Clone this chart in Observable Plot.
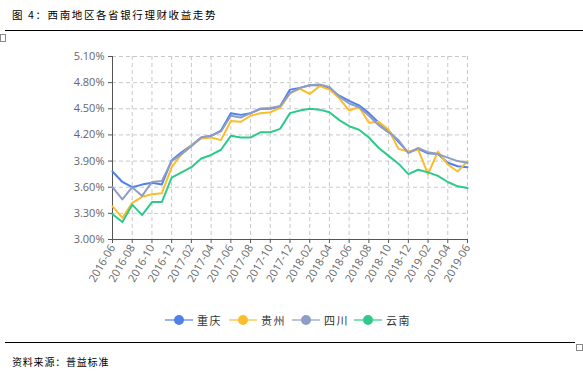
<!DOCTYPE html>
<html><head><meta charset="utf-8">
<script src="https://cdn.jsdelivr.net/npm/d3@7"></script>
<script src="https://cdn.jsdelivr.net/npm/@observablehq/plot@0.6"></script>
<style>
body{margin:0;background:#fff;}
#wrap{position:relative;width:583px;height:377px;overflow:hidden;font-family:"Noto Sans CJK SC",sans-serif;}
#title{position:absolute;left:12px;top:7px;font-size:10.5px;letter-spacing:1.6px;color:#000;font-family:"Noto Sans CJK SC";}
.hr{position:absolute;height:0;border-top:1.5px solid #000;}
#src{position:absolute;left:12px;top:354px;font-size:10px;letter-spacing:0.8px;color:#000;font-family:"Noto Sans CJK SC";}
#legend{position:absolute;top:312px;left:0;width:583px;height:18px;}
.lg{position:absolute;top:0;display:flex;align-items:center;font-size:11px;color:#333;letter-spacing:1.5px;}
#chart{position:absolute;left:0;top:0;}
.box{position:absolute;border:1px solid #888;background:#fff;}
</style></head>
<body><div id="wrap">
<div id="title">图 4：西南地区各省银行理财收益走势</div>
<div class="hr" style="left:5px;top:30px;width:578px"></div>
<div class="box" style="left:0;top:34px;width:4px;height:6px"></div>
<div id="chart"></div>
<div id="legend"></div>
<div class="hr" style="left:5px;top:342px;width:570px"></div>
<div class="box" style="left:576px;top:344px;width:5px;height:5px"></div>
<div id="src">资料来源：普益标准</div>
</div>
<script>
const months = ["2016-06","2016-07","2016-08","2016-09","2016-10","2016-11","2016-12",
"2017-01","2017-02","2017-03","2017-04","2017-05","2017-06","2017-07","2017-08","2017-09","2017-10","2017-11","2017-12",
"2018-01","2018-02","2018-03","2018-04","2018-05","2018-06","2018-07","2018-08","2018-09","2018-10","2018-11","2018-12",
"2019-01","2019-02","2019-03","2019-04","2019-05","2019-06"];
const seriesNames = ["重庆","贵州","四川","云南"];
const colors = ["#5081ea","#fbbd2a","#8e9dc4","#2dca8b"];
const chongqing = [3.78,3.66,3.60,3.63,3.65,3.63,3.91,4.00,4.08,4.17,4.19,4.25,4.45,4.43,4.45,4.50,4.50,4.53,
  4.72,4.74,4.77,4.77,4.73,4.65,4.59,4.54,4.45,4.34,4.25,4.12,4.00,4.04,3.99,3.98,3.88,3.84,3.83];
const guizhou = [3.38,3.25,3.42,3.49,3.52,3.53,3.83,3.98,4.08,4.16,4.17,4.14,4.36,4.35,4.42,4.45,4.46,4.51,
  4.68,4.73,4.67,4.76,4.72,4.62,4.48,4.52,4.34,4.35,4.26,4.04,4.01,4.03,3.75,4.01,3.86,3.78,3.90];
const sichuan = [3.60,3.46,3.60,3.50,3.66,3.67,3.90,3.98,4.07,4.17,4.19,4.24,4.42,4.40,4.45,4.50,4.51,4.53,
  4.68,4.74,4.77,4.78,4.75,4.64,4.56,4.52,4.42,4.31,4.23,4.14,3.99,4.05,4.00,3.98,3.94,3.90,3.88];
const yunnan = [3.29,3.20,3.40,3.28,3.43,3.43,3.71,3.77,3.83,3.93,3.97,4.03,4.19,4.17,4.17,4.23,4.23,4.27,
  4.45,4.48,4.50,4.49,4.46,4.37,4.30,4.26,4.17,4.05,3.96,3.87,3.75,3.80,3.77,3.73,3.66,3.61,3.59];
const yTicks = [3.00,3.30,3.60,3.90,4.20,4.50,4.80,5.10];

const allSeries = [chongqing, guizhou, sichuan, yunnan];
const data = [];
allSeries.forEach((vals, s) => vals.forEach((v, i) => data.push({i, v, s: seriesNames[s]})));
const xTicks = months.map((m, i) => i).filter(i => i % 2 === 0);

const plot = Plot.plot({
  width: 583, height: 377,
  marginLeft: 112, marginRight: 116, marginTop: 56, marginBottom: 138,
  style: {fontFamily: "'Open Sans', sans-serif", fontSize: "11px", color: "#666", background: "transparent"},
  x: {domain: [0, months.length - 1]},
  y: {domain: [3.0, 5.1]},
  color: {domain: seriesNames, range: colors},
  marks: [
    Plot.gridX(xTicks, {stroke: "#c8c8c8", strokeOpacity: 1, strokeDasharray: "4,3"}),
    Plot.gridY(yTicks, {stroke: "#c8c8c8", strokeOpacity: 1, strokeDasharray: "4,3"}),
    Plot.axisX({ticks: xTicks, tickFormat: i => months[i], tickRotate: -60, tickSize: 4, tickPadding: 2, fill: "#666", stroke: "#555", fontSize: 11, label: null}),
    Plot.axisY({ticks: yTicks, tickFormat: d => d.toFixed(2) + "%", tickSize: 4, tickPadding: 4, fill: "#666", stroke: "#555", fontSize: 11, label: null}),
    Plot.ruleX([0], {stroke: "#555"}),
    Plot.ruleY([3.0], {stroke: "#555"}),
    Plot.line(data, {x: "i", y: "v", z: "s", stroke: "s", strokeWidth: 2, strokeOpacity: 1})
  ]
});
document.getElementById("chart").appendChild(plot);

const lgX = [165, 229, 292, 354];
const leg = document.getElementById("legend");
seriesNames.forEach((n, k) => {
  const d = document.createElement("div");
  d.className = "lg";
  d.style.left = lgX[k] + "px";
  d.innerHTML = `<svg width="28" height="14" style="margin-right:4px"><line x1="0" x2="28" y1="7" y2="7" stroke="${colors[k]}" stroke-opacity="0.6" stroke-width="2"/><circle cx="14" cy="7" r="5" fill="${colors[k]}"/></svg><span>${n}</span>`;
  leg.appendChild(d);
});
</script>
</body></html>
